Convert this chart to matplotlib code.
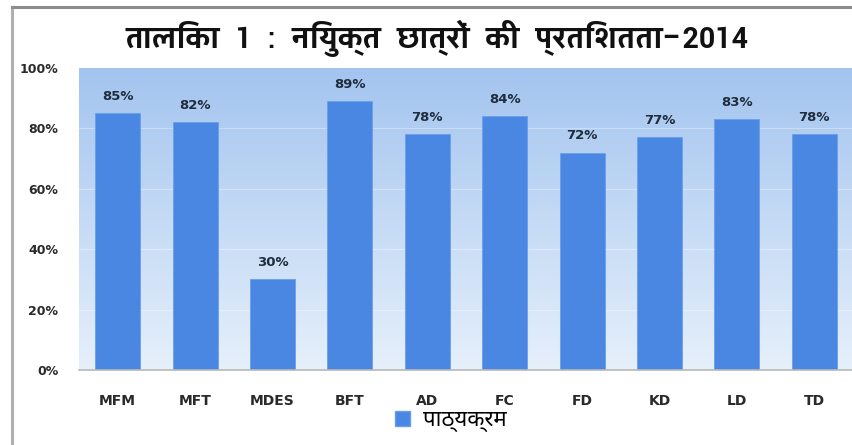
import matplotlib
matplotlib.use("Agg")
import matplotlib.pyplot as plt
import numpy as np
from matplotlib.patches import Patch
from matplotlib.lines import Line2D
import matplotlib.colors as mcolors

categories = ["MFM", "MFT", "MDES", "BFT", "AD", "FC", "FD", "KD", "LD", "TD"]
values = [85, 82, 30, 89, 78, 84, 72, 77, 83, 78]
yticks = [0, 20, 40, 60, 80, 100]
title = "तालिका  1  :  नियुक्त  छात्रों  की  प्रतिशतता–2014"
series_name = "पाठ्यक्रम"

title_fonts = ['Yantramanav', 'Noto Sans Devanagari', 'DejaVu Sans']
legend_fonts = ['Noto Sans Devanagari', 'Yantramanav', 'DejaVu Sans']
plt.rcParams['font.family'] = ['DejaVu Sans', 'Noto Sans Devanagari']

W, H = 853, 445
fig = plt.figure(figsize=(W / 100, H / 100), dpi=100)
fig.patch.set_facecolor('white')

# outer frame lines (left and top)
fig.add_artist(Line2D([12 / W, 12 / W], [0, 1 - 7 / H], transform=fig.transFigure,
                      color='#b0b0b0', lw=2.2))
fig.add_artist(Line2D([12 / W, 1], [1 - 7 / H, 1 - 7 / H], transform=fig.transFigure,
                      color='#8c8c8c', lw=2.2))

left, right, top, bottom = 79, 853, 68, 370
ax = fig.add_axes([left / W, 1 - bottom / H, (right - left) / W, (bottom - top) / H])

x = np.arange(len(categories))
ax.set_xlim(-0.5, len(categories) - 0.5)
ax.set_ylim(0, 100)

# gradient background
c_top = np.array(mcolors.to_rgb('#a3c4ef'))
c_bot = np.array(mcolors.to_rgb('#e6f0fb'))
t = np.linspace(0, 1, 256)[:, None]
grad = (c_top * (1 - t) + c_bot * t)[:, None, :].repeat(2, axis=1)
ax.imshow(grad, extent=(-0.5, len(categories) - 0.5, 0, 100), aspect='auto',
          origin='upper', zorder=0)

for yv in yticks[1:-1]:
    ax.axhline(yv, color='white', lw=0.8, alpha=0.35, zorder=1)

bars = ax.bar(x, values, width=0.58, color='#4a87e2', edgecolor='#6a9fe8',
              linewidth=0.6, zorder=2)
for xi, v in zip(x, values):
    ax.text(xi, v + 3.5, f"{v}%", ha='center', va='bottom', fontsize=9.5,
            fontweight='bold', color='#1f2d3d')

for s in ['left', 'right', 'top']:
    ax.spines[s].set_visible(False)
ax.spines['bottom'].set_color('#b8b8b8')
ax.spines['bottom'].set_linewidth(1.2)

ax.set_yticks(yticks)
ax.set_yticklabels([f"{v}%" for v in yticks])
ax.set_xticks(x)
ax.set_xticklabels(categories)
ax.tick_params(axis='y', length=0, pad=15, labelsize=9, labelcolor='#2a2a2a')
ax.tick_params(axis='x', length=0, pad=17, labelsize=10, labelcolor='#2a2a2a')
for lab in ax.get_xticklabels() + ax.get_yticklabels():
    lab.set_fontweight('bold')

fig.text(437 / W, 1 - 38 / H, title, ha='center', va='center', fontsize=22.8,
         fontweight='bold', family=title_fonts, color='#111111')

handle = Patch(facecolor='#4a87e2', edgecolor='#6a9fe8')
leg = fig.legend([handle], [series_name], loc='center', bbox_to_anchor=(451 / W, 1 - 421 / H),
                 frameon=False, prop={'family': legend_fonts, 'size': 16},
                 handlelength=0.65, handleheight=0.65, handletextpad=0.6)

fig.savefig("out.png", dpi=100)
